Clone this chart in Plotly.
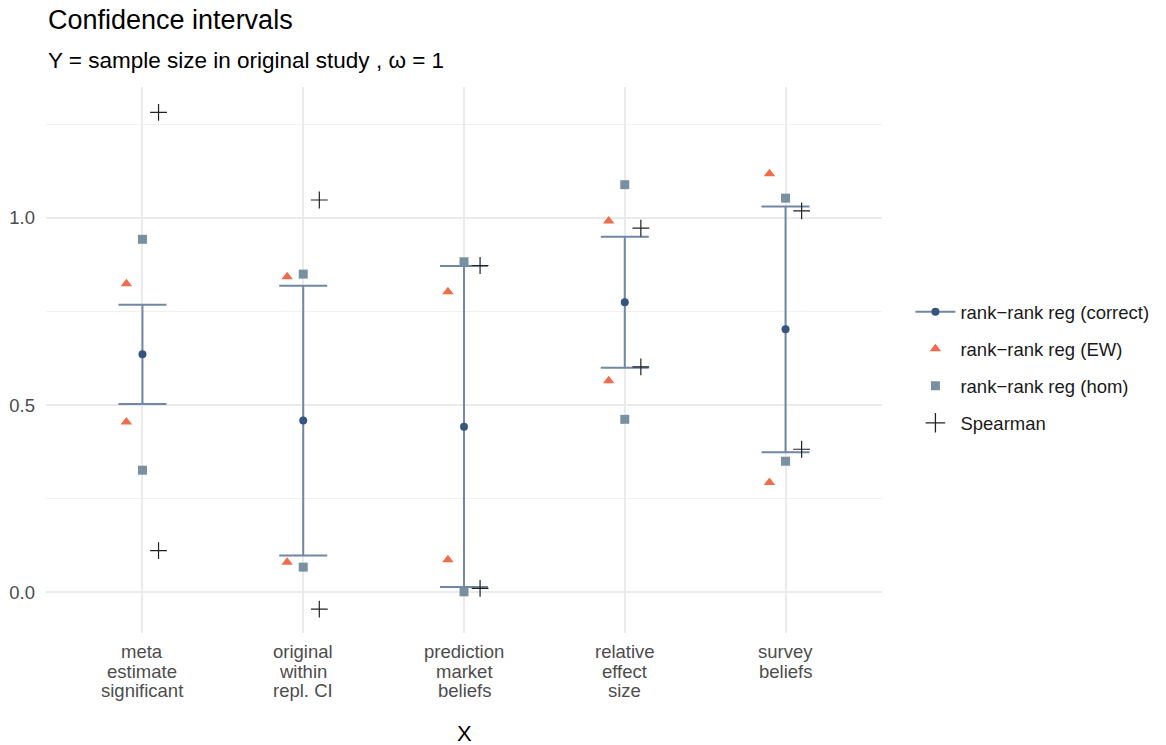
import plotly.graph_objects as go

# ---- data ----
categories = ["meta<br>estimate<br>significant", "original<br>within<br>repl. CI",
              "prediction<br>market<br>beliefs", "relative<br>effect<br>size",
              "survey<br>beliefs"]
cat_pos = [1, 2, 3, 4, 5]

correct_est = [0.636, 0.459, 0.442, 0.775, 0.703]
correct_lo = [0.503, 0.098, 0.014, 0.600, 0.374]
correct_hi = [0.768, 0.819, 0.872, 0.950, 1.031]

ew_hi = [0.824, 0.843, 0.803, 0.992, 1.118]
ew_lo = [0.455, 0.080, 0.087, 0.565, 0.293]

hom_hi = [0.943, 0.850, 0.883, 1.089, 1.053]
hom_lo = [0.326, 0.067, 0.001, 0.462, 0.350]

spear_hi = [1.282, 1.048, 0.873, 0.973, 1.019]
spear_lo = [0.111, -0.045, 0.010, 0.602, 0.382]

y_ticks = [0, 0.5, 1.0]
y_ticktext = ["0.0", "0.5", "1.0"]

dodge = 0.1
FONT = "Liberation Sans, Arial, sans-serif"
C_CORRECT = "#35557F"
C_ERR = "#7088A6"
C_EW = "#F26B4A"
C_HOM = "#7890A0"
C_SPEAR = "#222222"
TICK_SIZE = 18.5

fig = go.Figure()

def rep(xs, off):
    return [x + off for x in xs]

# error bars + points (correct)
fig.add_trace(go.Scatter(
    x=cat_pos, y=correct_est, mode="markers",
    marker=dict(size=8, color=C_CORRECT),
    error_y=dict(type="data", symmetric=False,
                 array=[h - e for h, e in zip(correct_hi, correct_est)],
                 arrayminus=[e - l for e, l in zip(correct_est, correct_lo)],
                 color=C_ERR, thickness=2, width=24),
    showlegend=False, hoverinfo="skip"))

# EW triangles
fig.add_trace(go.Scatter(
    x=rep(cat_pos, -dodge) * 2, y=ew_hi + ew_lo, mode="markers",
    marker=dict(symbol="triangle-up", size=10, color=C_EW),
    showlegend=False))
# hom squares
fig.add_trace(go.Scatter(
    x=cat_pos * 2, y=hom_hi + hom_lo, mode="markers",
    marker=dict(symbol="square", size=9, color=C_HOM),
    showlegend=False))
# Spearman crosses
fig.add_trace(go.Scatter(
    x=rep(cat_pos, dodge) * 2, y=spear_hi + spear_lo, mode="markers",
    marker=dict(symbol="cross-thin", size=12, color=C_SPEAR,
                line=dict(width=1.2, color=C_SPEAR)),
    showlegend=False))

# legend entries
fig.add_trace(go.Scatter(x=[None], y=[None], mode="lines+markers",
                         name="rank\u2212rank reg (correct)", legendgroup="a",
                         line=dict(color=C_ERR, width=2),
                         marker=dict(size=8, color=C_CORRECT)))
fig.add_trace(go.Scatter(x=[None], y=[None], mode="markers",
                         name="rank\u2212rank reg (EW)", legendgroup="b",
                         marker=dict(symbol="triangle-up", size=10, color=C_EW)))
fig.add_trace(go.Scatter(x=[None], y=[None], mode="markers",
                         name="rank\u2212rank reg (hom)", legendgroup="c",
                         marker=dict(symbol="square", size=9, color=C_HOM)))
fig.add_trace(go.Scatter(x=[None], y=[None], mode="markers",
                         name="Spearman", legendgroup="d",
                         marker=dict(symbol="cross-thin", size=14, color=C_SPEAR,
                                     line=dict(width=1.3, color=C_SPEAR))))

annotations = [
    dict(text="Confidence intervals", x=0, xref="paper", xanchor="left",
         y=1, yref="paper", yanchor="middle", yshift=67, xshift=0,
         showarrow=False, font=dict(size=27, color="#000000", family=FONT)),
    dict(text="Y = sample size in original study , \u03c9 = 1", x=0, xref="paper",
         xanchor="left", y=1, yref="paper", yanchor="middle", yshift=27, xshift=0,
         showarrow=False, font=dict(size=22.5, color="#000000", family=FONT)),
    dict(text="X", x=0.5, xref="paper", xanchor="center",
         y=0, yref="paper", yanchor="middle", yshift=-100,
         showarrow=False, font=dict(size=22, color="#000000", family=FONT)),
]
# category labels, one line at a time (tight line spacing as in the reference)
LINE_STEP = 19.5
for pos, label in zip(cat_pos, categories):
    for i, line in enumerate(label.split("<br>")):
        annotations.append(dict(
            text=line, x=pos, xref="x", xanchor="center",
            y=0, yref="paper", yanchor="middle", yshift=-(18.5 + i * LINE_STEP),
            showarrow=False, font=dict(size=TICK_SIZE, color="#4D4D4D", family=FONT)))

fig.update_layout(
    width=1166, height=745,
    paper_bgcolor="white", plot_bgcolor="white",
    font=dict(family=FONT, color="#4D4D4D", size=TICK_SIZE),
    margin=dict(l=46, r=284, t=87, b=112, autoexpand=False),
    showlegend=True,
    legend=dict(x=1.034, xanchor="left", y=0.486, yanchor="middle",
                font=dict(size=TICK_SIZE, color="#1A1A1A"),
                tracegroupgap=10, itemwidth=40, bgcolor="rgba(0,0,0,0)"),
    annotations=annotations,
)

fig.update_xaxes(
    range=[0.4, 5.6], tickmode="array", tickvals=cat_pos, ticktext=categories,
    showticklabels=False, automargin=False,
    showgrid=True, gridcolor="#EBEBEB", gridwidth=2, zeroline=False,
    showline=False, ticks="",
)
fig.update_yaxes(
    range=[-0.109, 1.350], tickmode="array", tickvals=y_ticks,
    ticktext=y_ticktext, automargin=False,
    showgrid=True, gridcolor="#EBEBEB", gridwidth=2, zeroline=False,
    showline=False, ticks="", ticklabelstandoff=10,
    tickfont=dict(size=TICK_SIZE, color="#4D4D4D"),
    minor=dict(tickvals=[0.25, 0.75, 1.25], showgrid=True, gridcolor="#F0F0F0",
               gridwidth=1, ticks=""),
)

# remove the browser's default 8px body margin so the figure fills the window
fig.write_html("out.html", config={"displayModeBar": False},
               post_script="document.body.style.margin='0px';document.body.style.overflow='hidden';")
